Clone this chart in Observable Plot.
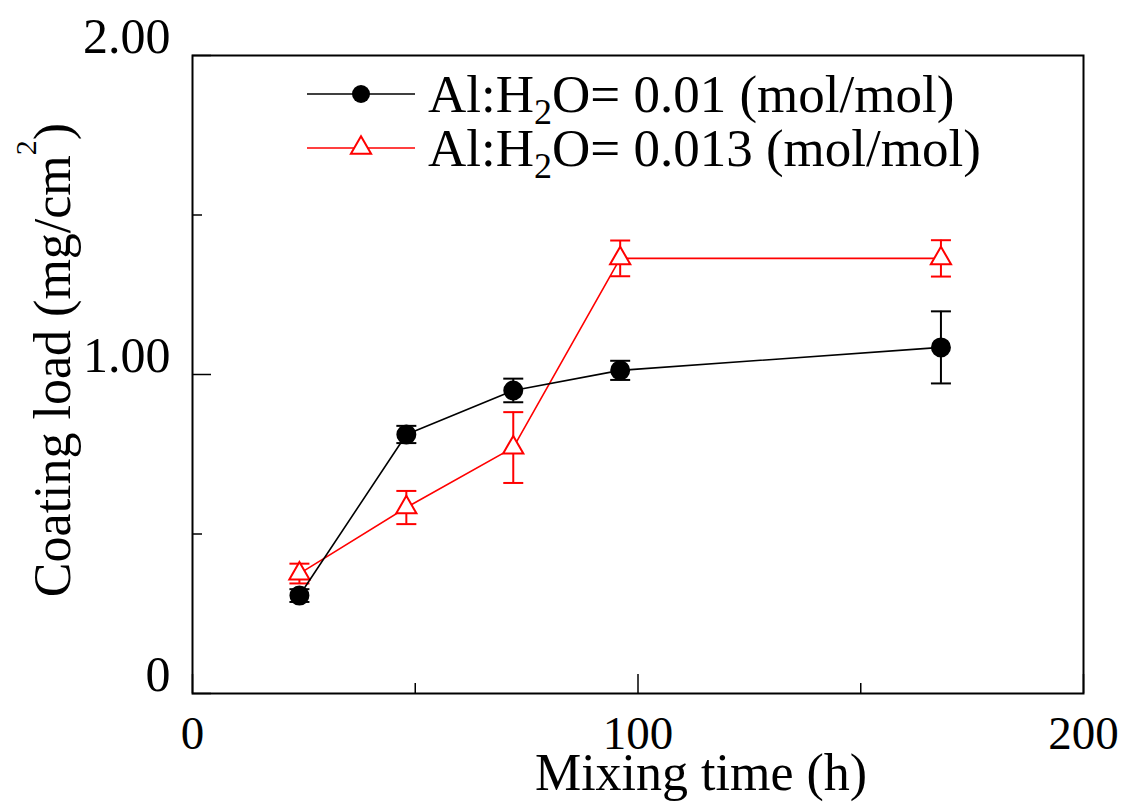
<!DOCTYPE html>
<html><head><meta charset="utf-8">
<script src="https://cdn.jsdelivr.net/npm/d3@7"></script>
<script src="https://cdn.jsdelivr.net/npm/@observablehq/plot@0.6"></script>
<style>body{margin:0;background:#fff;} #chart{position:relative;width:1126px;height:804px;}</style>
</head><body><div id="chart"></div>
<script>
// Mixing time (h)
const times = [24, 48, 72, 96, 168];
// Series: Al:H2O = 0.01 (mol/mol)
const load001 = [0.307, 0.812, 0.950, 1.013, 1.085];
const err001  = [0.020, 0.027, 0.037, 0.030, 0.113];
// Series: Al:H2O = 0.013 (mol/mol)
const load0013 = [0.376, 0.583, 0.771, 1.364, 1.364];
const err0013  = [0.031, 0.052, 0.111, 0.056, 0.057];

const xMajorTicks = [0, 100, 200];
const xMinorTicks = [50, 150];
const yMajorTicks = [0, 1, 2];
const yMinorTicks = [0.5, 1.5];
const yTickLabels = ["0", "1.00", "2.00"];

const rowsA = times.map((t, i) => ({t, v: load001[i], e: err001[i]}));
const rowsB = times.map((t, i) => ({t, v: load0013[i], e: err0013[i]}));

const capSymbol = {draw(ctx, size) { const w = Math.sqrt(size / Math.PI); ctx.moveTo(-w, 0); ctx.lineTo(w, 0); }};

function seriesMarks(rows, color, symbol, r, fill) {
  return [
    Plot.line(rows, {x: "t", y: "v", stroke: color, strokeWidth: 1.6}),
    Plot.ruleX(rows, {x: "t", y1: d => d.v - d.e, y2: d => d.v + d.e, stroke: color, strokeWidth: 2}),
    Plot.dot(rows, {x: "t", y: d => d.v - d.e, symbol: capSymbol, r: 10, stroke: color, strokeWidth: 2}),
    Plot.dot(rows, {x: "t", y: d => d.v + d.e, symbol: capSymbol, r: 10, stroke: color, strokeWidth: 2}),
    Plot.dot(rows, {x: "t", y: "v", symbol, r, stroke: color, fill, strokeWidth: 2})
  ];
}

const chart = Plot.plot({
  width: 1126, height: 804,
  marginLeft: 192, marginRight: 43, marginTop: 55, marginBottom: 111,
  style: {fontFamily: "'Liberation Serif', 'Times New Roman', serif", fontSize: "50px", color: "black", background: "white"},
  x: {domain: [0, 200]},
  y: {domain: [0, 2]},
  marks: [
    Plot.axisX({ticks: xMajorTicks, tickSize: -19, tickPadding: 41, fontSize: 47, tickFormat: d => String(d), label: null, strokeWidth: 1.5}),
    Plot.axisX({ticks: xMinorTicks, tickSize: -10, tickFormat: () => "", label: null, strokeWidth: 1.5}),
    Plot.axisY({ticks: yMajorTicks, tickSize: 0, tickPadding: 22, dy: -19,
      tickFormat: d => yTickLabels[yMajorTicks.indexOf(d)], label: null}),
    Plot.axisY({ticks: yMajorTicks, tickSize: -19, tickFormat: () => "", label: null, strokeWidth: 1.5}),
    Plot.axisY({ticks: yMinorTicks, tickSize: -10, tickFormat: () => "", label: null, strokeWidth: 1.5}),
    ...seriesMarks(rowsB, "#ff0000", "triangle", 7.5, "white"),
    ...seriesMarks(rowsA, "#000000", "circle", 9, "black"),
    Plot.frame({stroke: "black", strokeWidth: 2})
  ]
});

document.getElementById("chart").appendChild(chart);
const svg = d3.select(chart);
const ff = "'Liberation Serif', 'Times New Roman', serif";

// x label
svg.append("text").attr("x", 701).attr("y", 790).attr("text-anchor", "middle")
  .attr("font-family", ff).attr("font-size", 52).attr("fill", "black").text("Mixing time (h)");

// y label with superscript
const yl = svg.append("text").attr("transform", "translate(70,360) rotate(-90)")
  .attr("text-anchor", "middle").attr("font-family", ff).attr("font-size", 52).attr("fill", "black");
yl.append("tspan").text("Coating load (mg/cm");
yl.append("tspan").attr("dy", -34).attr("font-size", 30).text("2");
yl.append("tspan").attr("dy", 34).text(")");

// legend
const legend = [
  {name: ["Al:H", "2", "O= 0.01 (mol/mol)"], color: "#000000", sym: "circle"},
  {name: ["Al:H", "2", "O= 0.013 (mol/mol)"], color: "#ff0000", sym: "triangle"}
];
legend.forEach((L, i) => {
  const y = 94 + i * 54;
  const g = svg.append("g");
  g.append("line").attr("x1", 307).attr("x2", 415).attr("y1", y).attr("y2", y)
    .attr("stroke", L.color).attr("stroke-width", 1.6);
  if (L.sym === "circle") {
    g.append("circle").attr("cx", 361).attr("cy", y).attr("r", 9).attr("fill", L.color);
  } else {
    g.append("path").attr("transform", `translate(361,${y})`)
      .attr("d", d3.symbol(d3.symbolTriangle, Math.PI * 7.5 * 7.5)())
      .attr("fill", "white").attr("stroke", L.color).attr("stroke-width", 2);
  }
  const t = g.append("text").attr("x", 428).attr("y", y + 18).attr("text-anchor", "start")
    .attr("font-family", ff).attr("font-size", 53).attr("fill", "black");
  t.append("tspan").text(L.name[0]);
  t.append("tspan").attr("dy", 12).attr("font-size", 36).text(L.name[1]);
  t.append("tspan").attr("dy", -12).text(L.name[2]);
});
</script>
</body></html>
